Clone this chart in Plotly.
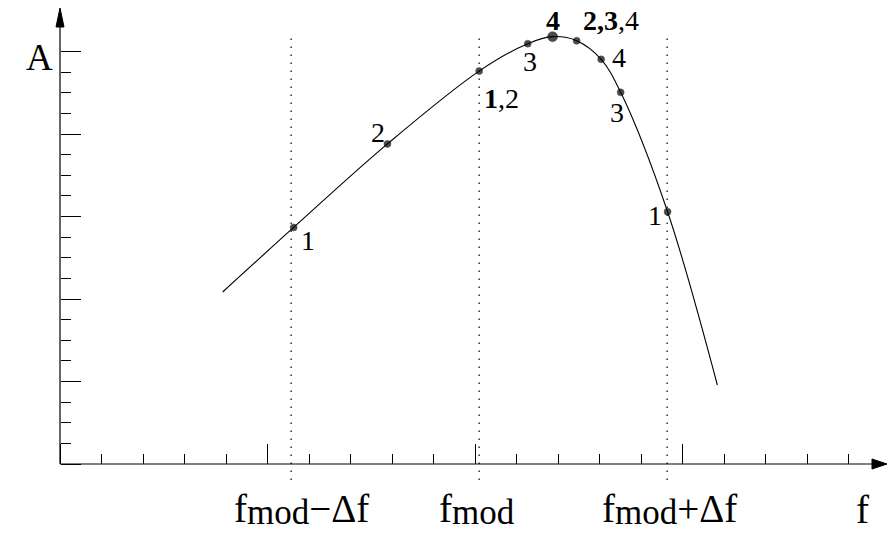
import plotly.graph_objects as go

# Resonance curve A(f); frequency and amplitude in tick units
point_f = [5.63, 7.89, 10.10, 11.27, 11.87, 12.45, 13.04, 13.51, 14.64]
point_a = [11.47, 15.52, 19.05, 20.38, 20.72, 20.52, 19.62, 18.02, 12.23]
point_labels = ["1", "2", "<b>1</b>,2", "3", "<b>4</b>", "<b>2,3</b>,4", "4", "3", "1"]

# curve ends beyond the marked points
start_f, start_a = 3.92, 8.34
end_f, end_a = 15.84, 3.83

f_mod = 10.10
delta_f = 4.53
freq_marks = [f_mod - delta_f, f_mod, f_mod + delta_f]

# tick layout (units)
x_major = list(range(0, 20, 5))
x_minor = list(range(0, 20))
y_major = list(range(0, 21, 4))
y_minor = list(range(0, 21))

# ---- styling / geometry ----
W, H = 887, 533
X0_PX, Y0_PX = 60, 464          # origin in pixels
PX_X, PX_Y = 41.5, 20.625       # pixels per unit
x_range = [-X0_PX / PX_X, (W - X0_PX) / PX_X]
y_range = [-(H - Y0_PX) / PX_Y, Y0_PX / PX_Y]

FONT = "Liberation Serif"
marker_sizes = [7, 7, 7, 7, 10, 7, 7, 7, 7]
label_shift = [(14.5, -13.5), (-9, 11), (22, -27), (2.5, -18), (0, 16),
               (34, 20), (17.5, 2), (-4, -20), (-13, -4)]

curve_f = [start_f] + point_f + [end_f]
curve_a = [start_a] + point_a + [end_a]

fig = go.Figure()
fig.add_trace(go.Scatter(x=curve_f, y=curve_a, mode="lines",
                         line=dict(color="black", width=1.1, shape="spline", smoothing=1.0),
                         hoverinfo="skip", showlegend=False))
fig.add_trace(go.Scatter(x=point_f, y=point_a, mode="markers",
                         marker=dict(color="black", size=marker_sizes,
                                     line=dict(color="black", width=0.5)),
                         showlegend=False, cliponaxis=False))

# dotted guide lines at f_mod - Δf, f_mod, f_mod + Δf
for fx in freq_marks:
    fig.add_shape(type="line", x0=fx, x1=fx, y0=-16 / PX_Y, y1=(Y0_PX - 35) / PX_Y,
                  xref="x", yref="y", line=dict(color="black", width=1.2, dash="1.5px,6.5px"))

# axis lines with arrowheads
x_tip = (W - X0_PX) / PX_X
y_tip = (Y0_PX - 8) / PX_Y
x_base = x_tip - 15 / PX_X
y_base = y_tip - 19 / PX_Y
fig.add_shape(type="line", x0=0, y0=0, x1=x_base, y1=0, line=dict(color="black", width=1.2))
fig.add_shape(type="line", x0=0, y0=0, x1=0, y1=y_base, line=dict(color="black", width=1.2))
fig.add_shape(type="path",
              path=f"M {x_base},{5 / PX_Y} L {x_tip},0 L {x_base},{-5 / PX_Y} Z",
              fillcolor="black", line=dict(color="black", width=1))
fig.add_shape(type="path",
              path=f"M {-4 / PX_X},{y_base} L 0,{y_tip} L {4 / PX_X},{y_base} Z",
              fillcolor="black", line=dict(color="black", width=1))

# point labels
for fx, ay, txt, (dx, dy) in zip(point_f, point_a, point_labels, label_shift):
    fig.add_annotation(x=fx, y=ay, text=txt, showarrow=False, xshift=dx, yshift=dy,
                       font=dict(family=FONT, size=28, color="black"))

# frequency labels under the axis
sub = "<span style='font-size:35px;baseline-shift:-2px'>mod</span>"
freq_texts = [f"f{sub}−Δf", f"f{sub}", f"f{sub}+Δf"]
freq_shift = [10, -2, 2]
for fx, txt, dx in zip(freq_marks, freq_texts, freq_shift):
    fig.add_annotation(x=fx, y=0, text=txt, showarrow=False, xshift=dx, yshift=-45,
                       font=dict(family=FONT, size=39, color="black"))

fig.add_annotation(x=870.5 / W, xref="paper", y=0, text="f", showarrow=False, yshift=-45,
                   font=dict(family=FONT, size=39, color="black"))
fig.add_annotation(x=23.5 / W, y=1 - 35 / H, xref="paper", yref="paper", text="A",
                   showarrow=False, font=dict(family=FONT, size=37, color="black"))

tick_style = dict(ticks="inside", tickcolor="black", tickwidth=1, ticklen=20,
                  showticklabels=False, showgrid=False, zeroline=False, showline=False,
                  tickmode="array")
fig.update_layout(
    width=W, height=H, margin=dict(l=0, r=0, t=0, b=0),
    paper_bgcolor="white", plot_bgcolor="white",
    xaxis=dict(range=x_range, anchor="free", position=(H - Y0_PX) / H, tickvals=x_major,
               minor=dict(tickmode="array", tickvals=x_minor, ticks="inside", ticklen=10,
                          tickcolor="black", tickwidth=1),
               **tick_style),
    yaxis=dict(range=y_range, anchor="free", position=X0_PX / W, tickvals=y_major,
               minor=dict(tickmode="array", tickvals=y_minor, ticks="inside", ticklen=10,
                          tickcolor="black", tickwidth=1),
               **tick_style),
)

fig.write_html("out.html")
